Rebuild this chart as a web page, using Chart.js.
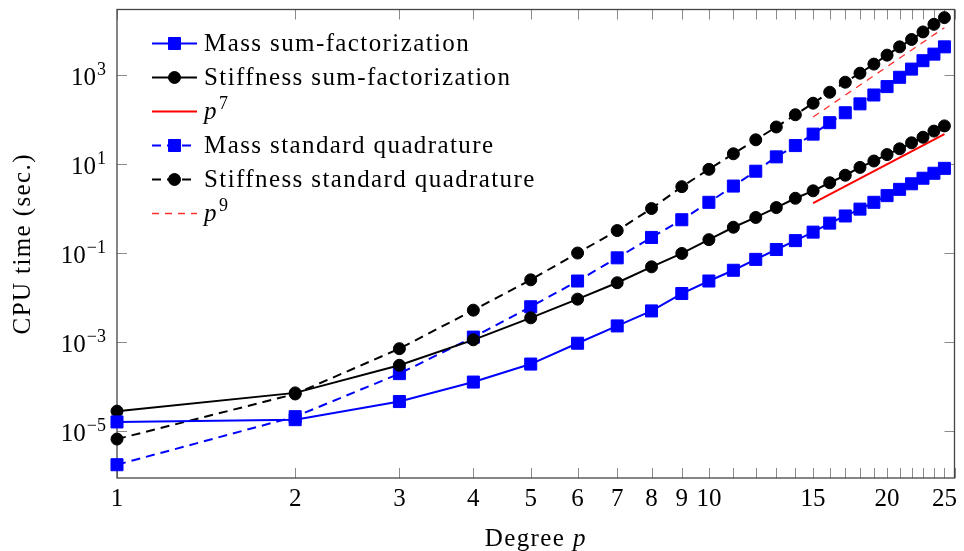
<!DOCTYPE html>
<html>
<head>
<meta charset="utf-8">
<script src="https://cdn.jsdelivr.net/npm/chart.js@4.4.1/dist/chart.umd.min.js"></script>
<style>
  html, body { margin: 0; padding: 0; background: #fff; }
  canvas { display: block; }
</style>
</head>
<body>
<canvas id="cpuChart" width="964" height="551"></canvas>
<script>
// polynomial degree p
let degrees = [1, 2, 3, 4, 5, 6, 7, 8, 9, 10, 11, 12, 13, 14, 15, 16, 17, 18, 19, 20, 21, 22, 23, 24, 25];

// CPU time (sec.)
let massSumFact = [1.6e-5, 1.8e-5, 4.6e-5, 1.26e-4, 3.2e-4, 9.4e-4, 2.3e-3, 5.0e-3, 0.0123, 0.0235,
  0.041, 0.072, 0.12, 0.19, 0.295, 0.47, 0.68, 0.97, 1.38, 1.95, 2.7, 3.6, 4.8, 6.2, 8.0];
let stiffSumFact = [2.8e-5, 7.2e-5, 3.0e-4, 1.12e-3, 3.5e-3, 9.2e-3, 0.0215, 0.049, 0.098, 0.2,
  0.38, 0.63, 1.05, 1.7, 2.5, 3.8, 5.6, 8.4, 11.7, 16.3, 22, 30, 40, 55, 72];
let massStdQuad = [1.75e-6, 2.1e-5, 1.95e-4, 1.29e-3, 6.2e-3, 0.0235, 0.078, 0.224, 0.56, 1.38,
  3.2, 6.9, 14.5, 26, 47, 85, 142, 225, 356, 550, 890, 1360, 2100, 2950, 4300];
let stiffStdQuad = [6.6e-6, 6.8e-5, 7.1e-4, 5.2e-3, 0.025, 0.1, 0.32, 1.0, 3.1, 7.6,
  17, 35, 68, 128, 233, 410, 690, 1100, 1760, 2800, 4300, 6300, 9300, 13800, 19500];

// reference slopes
let refDegrees = [15, 25];
let refP7 = [1.32, 47];
let refP9 = [114, 11600];

// axis ticks
let xTickPositions = [1, 2, 3, 4, 5, 6, 7, 8, 9, 10, 11, 12, 13, 14, 15, 16, 17, 18, 19, 20, 21, 22, 23, 24, 25, 26];
let xTickLabels = [1, 2, 3, 4, 5, 6, 7, 8, 9, 10, 15, 20, 25];
let yTickExponents = [-5, -3, -1, 1, 3];
let xMin = 1, xMax = 26;
let yMin = 8.8e-7, yMax = 2.97e4;

let serif = '"Liberation Serif", "Times New Roman", serif';

function pairs(xs, ys) {
  return xs.map((x, i) => ({ x: x, y: ys[i] }));
}

function drawMarker(ctx, style, x, y, r, color) {
  ctx.fillStyle = color;
  ctx.strokeStyle = color;
  ctx.lineWidth = 1;
  ctx.setLineDash([]);
  ctx.beginPath();
  if (style === 'rect') {
    let s = Math.SQRT1_2 * r;
    ctx.rect(x - s, y - s, 2 * s, 2 * s);
  } else {
    ctx.arc(x, y, r, 0, Math.PI * 2);
  }
  ctx.fill();
  ctx.stroke();
}

// "base^exp" text, returns the end x
function drawPower(ctx, x, baseline, base, exp, italic) {
  ctx.textAlign = 'left';
  ctx.textBaseline = 'alphabetic';
  ctx.font = (italic ? 'italic ' : '') + '25px ' + serif;
  ctx.fillText(base, x, baseline);
  x += ctx.measureText(base).width + 1;
  ctx.font = '18px ' + serif;
  ctx.fillText(exp, x, baseline - 10);
  return x + ctx.measureText(exp).width;
}

// box, inward ticks, y tick labels and axis titles
let axesFrame = {
  id: 'axesFrame',
  beforeDatasetsDraw(chart) {
    let ctx = chart.ctx, a = chart.chartArea;
    let xs = chart.scales.x, ys = chart.scales.y;
    ctx.save();
    ctx.strokeStyle = '#8a8a8a';
    ctx.lineWidth = 1;
    xTickPositions.forEach(v => {
      let px = Math.round(xs.getPixelForValue(v)) + 0.5;
      ctx.beginPath();
      ctx.moveTo(px, a.bottom); ctx.lineTo(px, a.bottom - 10);
      ctx.moveTo(px, a.top); ctx.lineTo(px, a.top + 10);
      ctx.stroke();
    });
    yTickExponents.forEach(e => {
      let py = Math.round(ys.getPixelForValue(Math.pow(10, e))) + 0.5;
      ctx.beginPath();
      ctx.moveTo(a.left, py); ctx.lineTo(a.left + 10, py);
      ctx.moveTo(a.right, py); ctx.lineTo(a.right - 10, py);
      ctx.stroke();
    });
    ctx.strokeStyle = '#444';
    ctx.lineWidth = 1.3;
    ctx.strokeRect(a.left, a.top, a.right - a.left, a.bottom - a.top);

    // y tick labels 10^e
    ctx.fillStyle = '#000';
    yTickExponents.forEach(e => {
      let py = ys.getPixelForValue(Math.pow(10, e));
      let exp = e < 0 ? '\u2212' + Math.abs(e) : String(e);
      ctx.font = '18px ' + serif;
      let ew = ctx.measureText(exp).width;
      ctx.textBaseline = 'middle';
      ctx.textAlign = 'left';
      ctx.fillText(exp, 106 - ew, py - 5);
      ctx.font = '25px ' + serif;
      ctx.textAlign = 'right';
      ctx.fillText('10', 105 - ew, py + 3);
    });

    // axis titles
    ctx.letterSpacing = '1.4px';
    ctx.font = '25px ' + serif;
    ctx.save();
    ctx.translate(23, (a.top + a.bottom) / 2);
    ctx.rotate(-Math.PI / 2);
    ctx.textAlign = 'center';
    ctx.textBaseline = 'middle';
    ctx.fillText('CPU time (sec.)', 0, 0);
    ctx.restore();

    let part1 = 'Degree ';
    let w1 = ctx.measureText(part1).width;
    ctx.font = 'italic 25px ' + serif;
    let w2 = ctx.measureText('p').width;
    let startX = (a.left + a.right) / 2 - (w1 + w2) / 2;
    ctx.textAlign = 'left';
    ctx.textBaseline = 'alphabetic';
    ctx.font = '25px ' + serif;
    ctx.fillText(part1, startX, 546);
    ctx.font = 'italic 25px ' + serif;
    ctx.fillText('p', startX + w1, 546);
    ctx.restore();
  }
};

// legend drawn inside the plot, top left
let insideLegend = {
  id: 'insideLegend',
  afterDatasetsDraw(chart) {
    let ctx = chart.ctx;
    chart.data.datasets.forEach((ds, i) => {
      let y = 43.5 + i * 34;
      ctx.save();
      ctx.strokeStyle = ds.borderColor;
      ctx.lineWidth = ds.borderWidth;
      ctx.setLineDash(ds.borderDash || []);
      ctx.beginPath();
      ctx.moveTo(152, y);
      ctx.lineTo(197, y);
      ctx.stroke();
      if (ds.pointRadius > 0) {
        drawMarker(ctx, ds.pointStyle, 174.5, y, ds.pointRadius, ds.backgroundColor);
      }
      ctx.fillStyle = '#000';
      ctx.letterSpacing = '1.4px';
      let m = /^p\^(\d+)$/.exec(ds.label);
      if (m) {
        drawPower(ctx, 204, y + 7.5, 'p', m[1], true);
      } else {
        ctx.font = '25px ' + serif;
        ctx.textAlign = 'left';
        ctx.textBaseline = 'alphabetic';
        ctx.fillText(ds.label, 204, y + 7.5);
      }
      ctx.restore();
    });
  }
};

new Chart(document.getElementById('cpuChart'), {
  type: 'line',
  data: {
    datasets: [{
      label: 'Mass sum-factorization',
      data: pairs(degrees, massSumFact),
      borderColor: '#0000ff', backgroundColor: '#0000ff',
      borderWidth: 2, pointStyle: 'rect', pointRadius: 8.5, pointBorderWidth: 1
    }, {
      label: 'Stiffness sum-factorization',
      data: pairs(degrees, stiffSumFact),
      borderColor: '#000000', backgroundColor: '#000000',
      borderWidth: 2, pointStyle: 'circle', pointRadius: 6, pointBorderWidth: 1
    }, {
      label: 'p^7',
      data: pairs(refDegrees, refP7),
      borderColor: '#ff0000', backgroundColor: '#ff0000',
      borderWidth: 2, pointRadius: 0
    }, {
      label: 'Mass standard quadrature',
      data: pairs(degrees, massStdQuad),
      borderColor: '#0000ff', backgroundColor: '#0000ff',
      borderWidth: 2, borderDash: [9, 6], pointStyle: 'rect', pointRadius: 8.5, pointBorderWidth: 1
    }, {
      label: 'Stiffness standard quadrature',
      data: pairs(degrees, stiffStdQuad),
      borderColor: '#000000', backgroundColor: '#000000',
      borderWidth: 2, borderDash: [9, 6], pointStyle: 'circle', pointRadius: 6, pointBorderWidth: 1
    }, {
      label: 'p^9',
      data: pairs(refDegrees, refP9),
      borderColor: '#ff3030', backgroundColor: '#ff3030',
      borderWidth: 1.3, borderDash: [7, 6], pointRadius: 0
    }]
  },
  options: {
    responsive: false,
    animation: false,
    devicePixelRatio: 1,
    clip: false,
    layout: { padding: { top: 7, right: 2, left: 0, bottom: 0 } },
    elements: { line: { tension: 0, fill: false } },
    plugins: {
      legend: { display: false },
      tooltip: { enabled: false }
    },
    scales: {
      x: {
        type: 'logarithmic',
        min: xMin,
        max: xMax,
        grid: { display: false, drawTicks: false },
        border: { display: false },
        afterBuildTicks: s => { s.ticks = xTickPositions.map(v => ({ value: v })); },
        afterFit: s => { s.height = 73; },
        ticks: {
          autoSkip: false, maxRotation: 0, minRotation: 0, padding: 6,
          color: '#000', font: { family: serif, size: 25 },
          callback: v => xTickLabels.includes(v) ? String(v) : ''
        }
      },
      y: {
        type: 'logarithmic',
        min: yMin,
        max: yMax,
        grid: { display: false, drawTicks: false },
        border: { display: false },
        afterBuildTicks: s => { s.ticks = yTickExponents.map(e => ({ value: Math.pow(10, e) })); },
        afterFit: s => { s.width = 117; },
        ticks: { display: false }
      }
    }
  },
  plugins: [axesFrame, insideLegend]
});
</script>
</body>
</html>
